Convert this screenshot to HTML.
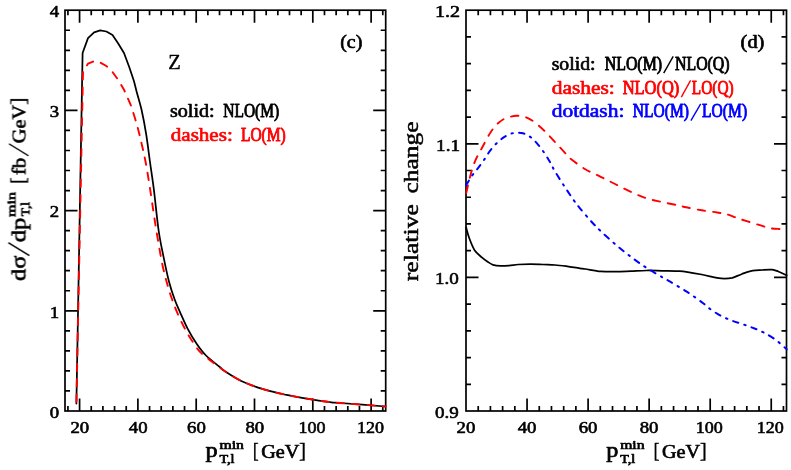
<!DOCTYPE html>
<html><head><meta charset="utf-8"><title>plot</title>
<style>
html,body{margin:0;padding:0;background:#fff;overflow:hidden;}svg{display:block;}
text{font-family:"Liberation Serif",serif;}
</style></head><body>
<svg width="791" height="470" viewBox="0 0 791 470">
<rect width="791" height="470" fill="#fff"/>
<g fill="none" stroke="#000" stroke-width="1.70">
<rect x="65.00" y="10.20" width="320.70" height="400.80"/>
<path d="M79.58 411.00v-12.5M79.58 10.20v12.5M137.89 411.00v-12.5M137.89 10.20v12.5M196.20 411.00v-12.5M196.20 10.20v12.5M254.50 411.00v-12.5M254.50 10.20v12.5M312.81 411.00v-12.5M312.81 10.20v12.5M371.12 411.00v-12.5M371.12 10.20v12.5M67.92 411.00v-5.0M67.92 10.20v5.0M91.24 411.00v-5.0M91.24 10.20v5.0M102.90 411.00v-5.0M102.90 10.20v5.0M114.56 411.00v-5.0M114.56 10.20v5.0M126.22 411.00v-5.0M126.22 10.20v5.0M149.55 411.00v-5.0M149.55 10.20v5.0M161.21 411.00v-5.0M161.21 10.20v5.0M172.87 411.00v-5.0M172.87 10.20v5.0M184.53 411.00v-5.0M184.53 10.20v5.0M207.86 411.00v-5.0M207.86 10.20v5.0M219.52 411.00v-5.0M219.52 10.20v5.0M231.18 411.00v-5.0M231.18 10.20v5.0M242.84 411.00v-5.0M242.84 10.20v5.0M266.17 411.00v-5.0M266.17 10.20v5.0M277.83 411.00v-5.0M277.83 10.20v5.0M289.49 411.00v-5.0M289.49 10.20v5.0M301.15 411.00v-5.0M301.15 10.20v5.0M324.48 411.00v-5.0M324.48 10.20v5.0M336.14 411.00v-5.0M336.14 10.20v5.0M347.80 411.00v-5.0M347.80 10.20v5.0M359.46 411.00v-5.0M359.46 10.20v5.0M382.78 411.00v-5.0M382.78 10.20v5.0M65.00 310.80h12.5M385.70 310.80h-12.5M65.00 210.60h12.5M385.70 210.60h-12.5M65.00 110.40h12.5M385.70 110.40h-12.5M65.00 390.96h5.0M385.70 390.96h-5.0M65.00 370.92h5.0M385.70 370.92h-5.0M65.00 350.88h5.0M385.70 350.88h-5.0M65.00 330.84h5.0M385.70 330.84h-5.0M65.00 290.76h5.0M385.70 290.76h-5.0M65.00 270.72h5.0M385.70 270.72h-5.0M65.00 250.68h5.0M385.70 250.68h-5.0M65.00 230.64h5.0M385.70 230.64h-5.0M65.00 190.56h5.0M385.70 190.56h-5.0M65.00 170.52h5.0M385.70 170.52h-5.0M65.00 150.48h5.0M385.70 150.48h-5.0M65.00 130.44h5.0M385.70 130.44h-5.0M65.00 90.36h5.0M385.70 90.36h-5.0M65.00 70.32h5.0M385.70 70.32h-5.0M65.00 50.28h5.0M385.70 50.28h-5.0M65.00 30.24h5.0M385.70 30.24h-5.0"/>
<rect x="466.00" y="10.20" width="320.50" height="400.80"/>
<path d="M527.05 411.00v-12.5M527.05 10.20v12.5M588.10 411.00v-12.5M588.10 10.20v12.5M649.14 411.00v-12.5M649.14 10.20v12.5M710.19 411.00v-12.5M710.19 10.20v12.5M771.24 411.00v-12.5M771.24 10.20v12.5M478.21 411.00v-5.0M478.21 10.20v5.0M490.42 411.00v-5.0M490.42 10.20v5.0M502.63 411.00v-5.0M502.63 10.20v5.0M514.84 411.00v-5.0M514.84 10.20v5.0M539.26 411.00v-5.0M539.26 10.20v5.0M551.47 411.00v-5.0M551.47 10.20v5.0M563.68 411.00v-5.0M563.68 10.20v5.0M575.89 411.00v-5.0M575.89 10.20v5.0M600.30 411.00v-5.0M600.30 10.20v5.0M612.51 411.00v-5.0M612.51 10.20v5.0M624.72 411.00v-5.0M624.72 10.20v5.0M636.93 411.00v-5.0M636.93 10.20v5.0M661.35 411.00v-5.0M661.35 10.20v5.0M673.56 411.00v-5.0M673.56 10.20v5.0M685.77 411.00v-5.0M685.77 10.20v5.0M697.98 411.00v-5.0M697.98 10.20v5.0M722.40 411.00v-5.0M722.40 10.20v5.0M734.61 411.00v-5.0M734.61 10.20v5.0M746.82 411.00v-5.0M746.82 10.20v5.0M759.03 411.00v-5.0M759.03 10.20v5.0M783.45 411.00v-5.0M783.45 10.20v5.0M466.00 277.40h12.5M786.50 277.40h-12.5M466.00 143.80h12.5M786.50 143.80h-12.5M466.00 384.28h5.0M786.50 384.28h-5.0M466.00 357.56h5.0M786.50 357.56h-5.0M466.00 330.84h5.0M786.50 330.84h-5.0M466.00 304.12h5.0M786.50 304.12h-5.0M466.00 250.68h5.0M786.50 250.68h-5.0M466.00 223.96h5.0M786.50 223.96h-5.0M466.00 197.24h5.0M786.50 197.24h-5.0M466.00 170.52h5.0M786.50 170.52h-5.0M466.00 117.08h5.0M786.50 117.08h-5.0M466.00 90.36h5.0M786.50 90.36h-5.0M466.00 63.64h5.0M786.50 63.64h-5.0M466.00 36.92h5.0M786.50 36.92h-5.0"/>
</g>
<g fill="none" stroke-width="1.75" stroke-linejoin="round" stroke-linecap="round">
<path stroke="#000" d="M76.4 403.6L82.6 53.0L88.0 38.1L94.1 32.3L100.2 30.4L106.4 31.5L112.5 34.9L117.9 43.0L124.0 53.0L129.4 67.5L134.0 81.3L136.7 92.0L136.7 92.0C137.5 95.0 140.0 102.9 141.6 110.0C143.2 117.1 144.8 125.7 146.2 134.4C147.6 143.1 148.7 152.6 150.0 162.0C151.3 171.4 152.6 179.1 154.0 190.6C155.4 202.1 157.1 219.8 158.7 231.0C160.3 242.2 162.0 249.1 163.7 257.6C165.4 266.1 167.3 275.1 169.1 282.0C170.9 288.9 172.7 294.0 174.5 299.0C176.3 304.0 177.7 306.9 179.9 311.9C182.1 316.8 184.8 323.3 187.6 328.7C190.4 334.1 193.7 339.5 196.8 344.0C199.9 348.5 202.2 351.7 206.0 355.5C209.8 359.3 216.6 364.3 219.8 367.0C223.0 369.7 221.8 369.2 225.3 371.5C228.8 373.8 235.6 378.1 240.7 380.7C245.8 383.2 250.9 385.0 256.0 386.8C261.1 388.6 266.2 390.0 271.3 391.4C276.4 392.8 281.5 393.8 286.6 394.9C291.7 396.0 296.9 396.9 302.0 397.8C307.1 398.7 312.6 399.6 317.3 400.3C322.0 401.0 326.2 401.7 330.0 402.1C333.8 402.6 330.8 402.3 340.0 403.0C349.2 403.7 377.9 405.9 385.5 406.5"/>
<path stroke="#f00" stroke-width="1.9" stroke-dashoffset="-1.75" stroke-dasharray="7.45 7.9" d="M76.4 403.6L83.0 72.0L88.0 63.7L93.4 61.4L99.5 62.1L106.4 66.0L112.5 72.0L118.6 80.5L124.0 89.7L130.9 105.3L130.9 105.3C131.9 108.6 135.2 118.6 137.0 125.0C138.8 131.4 140.2 137.6 141.6 143.6C143.0 149.6 144.1 154.2 145.4 161.0C146.7 167.8 148.1 176.2 149.4 184.5C150.7 192.8 152.1 202.7 153.3 210.6C154.5 218.5 155.1 223.2 156.6 232.0C158.1 240.8 160.4 254.9 162.2 263.7C164.0 272.5 165.9 279.3 167.5 285.0C169.1 290.7 170.0 293.5 171.6 298.0C173.2 302.5 174.8 306.9 176.9 311.9C179.1 316.9 181.9 323.1 184.5 328.0C187.1 332.9 189.6 337.1 192.2 341.0C194.8 344.9 197.0 348.6 199.8 351.7C202.6 354.8 206.2 357.1 209.0 359.4C211.8 361.6 214.0 363.2 216.7 365.2C219.4 367.2 221.3 368.9 225.3 371.5C229.3 374.1 235.6 378.1 240.7 380.7C245.8 383.2 250.9 385.0 256.0 386.8C261.1 388.6 266.2 390.0 271.3 391.4C276.4 392.8 281.5 393.8 286.6 394.9C291.7 396.0 296.9 396.9 302.0 397.8C307.1 398.7 312.6 399.6 317.3 400.3C322.0 401.0 326.2 401.7 330.0 402.1C333.8 402.6 330.8 402.3 340.0 403.0C349.2 403.7 377.9 405.9 385.5 406.5"/>
<path stroke="#000" d="M466.1 227.3C466.6 229.1 467.8 234.2 469.2 238.0C470.6 241.8 472.6 247.0 474.6 250.2C476.7 253.4 479.3 255.2 481.5 257.1C483.7 259.0 485.7 260.4 487.6 261.7C489.5 263.0 490.8 264.1 493.0 264.8C495.2 265.5 497.9 265.8 500.6 265.9C503.3 266.0 506.1 265.8 509.0 265.6C511.9 265.4 514.6 264.8 518.2 264.5C521.8 264.2 526.4 264.0 530.5 264.0C534.6 264.0 538.7 264.3 542.8 264.5C546.9 264.7 550.9 264.7 555.0 265.0C559.1 265.3 563.1 265.8 567.3 266.3C571.5 266.9 577.0 267.9 580.0 268.3C583.0 268.8 581.8 268.5 585.3 269.0C588.8 269.5 595.6 270.9 600.7 271.4C605.8 271.8 610.9 271.8 616.0 271.7C621.1 271.6 626.2 271.3 631.3 271.1C636.4 270.9 641.5 270.6 646.6 270.5C651.7 270.4 656.9 270.7 662.0 270.8C667.1 270.9 673.2 270.9 677.3 271.1C681.3 271.3 682.2 271.2 686.3 271.8C690.4 272.4 696.6 273.5 701.7 274.5C706.8 275.5 713.2 277.2 717.0 277.9C720.8 278.6 722.1 278.7 724.6 278.7C727.1 278.7 729.5 278.6 732.3 277.9C735.1 277.1 738.4 275.3 741.5 274.2C744.6 273.1 747.1 271.8 750.7 271.1C754.3 270.4 759.4 270.1 763.0 269.9C766.6 269.6 769.7 269.3 772.2 269.6C774.8 269.9 775.9 270.6 778.3 271.5C780.7 272.4 785.3 274.7 786.7 275.3"/>
<path stroke="#f00" stroke-width="1.9" stroke-dashoffset="-0.95" stroke-dasharray="7.45 7.9" d="M466.1 193.7C466.8 190.9 468.5 182.4 470.0 176.9C471.5 171.4 473.1 165.8 475.3 160.7C477.5 155.5 480.4 150.8 483.0 146.0C485.6 141.2 488.1 136.0 490.7 132.2C493.2 128.4 495.8 125.3 498.3 123.0C500.9 120.7 502.9 119.3 506.0 118.1C509.1 116.9 513.4 115.9 516.7 115.8C520.0 115.7 523.1 116.2 525.9 117.2C528.7 118.2 530.5 119.2 533.6 121.5C536.7 123.8 540.7 127.3 544.3 130.7C547.9 134.1 551.4 138.3 555.0 142.1C558.6 145.9 563.2 150.9 565.7 153.6C568.2 156.3 566.7 155.8 570.0 158.4C573.3 161.0 580.2 166.1 585.3 169.2C590.4 172.3 595.6 174.2 600.7 176.8C605.8 179.4 610.9 181.9 616.0 184.5C621.1 187.1 626.2 189.8 631.3 192.1C636.4 194.4 641.5 196.6 646.6 198.3C651.7 200.0 656.9 200.9 662.0 202.1C667.1 203.2 673.2 204.3 677.3 205.2C681.3 206.1 682.2 206.5 686.3 207.3C690.4 208.2 696.6 209.4 701.7 210.3C706.8 211.2 712.7 211.8 717.0 212.5C721.3 213.2 724.4 213.6 727.7 214.5C731.0 215.4 733.6 216.8 736.9 218.0C740.2 219.2 743.8 220.2 747.6 221.4C751.4 222.6 756.1 224.0 759.9 225.2C763.7 226.3 767.1 227.7 770.6 228.3C774.1 228.9 777.9 228.8 780.6 229.0C783.3 229.2 785.7 229.2 786.7 229.3"/>
<path stroke="#00f" stroke-width="2" stroke-dashoffset="0" stroke-dasharray="5.4 6.25 1.5 6.25" d="M466.1 185.3C467.1 183.6 470.2 178.2 472.3 175.3C474.4 172.4 476.4 170.2 478.4 167.7C480.3 165.1 481.9 163.0 484.0 160.0C486.1 157.0 488.3 152.9 490.7 149.8C493.1 146.8 495.8 144.0 498.3 141.7C500.9 139.4 503.4 137.4 506.0 136.0C508.6 134.6 511.1 133.5 513.6 133.0C516.1 132.5 518.7 132.5 521.3 133.0C523.9 133.5 526.5 134.3 529.0 136.0C531.5 137.7 534.1 140.1 536.6 142.9C539.1 145.7 542.0 149.6 544.3 152.9C546.6 156.2 548.6 159.7 550.4 162.8C552.2 165.9 552.7 167.6 555.0 171.5C557.3 175.4 561.1 181.3 564.2 186.0C567.3 190.7 570.8 196.1 573.4 199.8C576.0 203.5 577.0 204.7 580.0 208.3C583.0 212.0 588.0 217.9 591.5 221.7C595.0 225.5 596.6 227.2 600.7 231.1C604.8 235.0 610.9 240.6 616.0 244.9C621.1 249.2 626.2 253.3 631.3 257.1C636.4 260.9 641.5 264.6 646.6 267.9C651.7 271.2 657.9 274.7 662.0 277.1C666.1 279.5 667.0 279.8 671.0 282.2C675.0 284.6 681.2 288.1 686.3 291.4C691.4 294.7 697.9 299.3 701.7 302.1C705.5 304.9 706.2 306.2 709.3 308.4C712.3 310.6 716.4 313.3 720.0 315.3C723.6 317.3 727.2 318.8 730.8 320.2C734.4 321.6 737.9 322.6 741.5 323.8C745.1 325.0 748.6 326.2 752.2 327.6C755.8 329.0 759.2 330.2 763.0 332.2C766.8 334.2 771.2 336.6 775.2 339.5C779.2 342.4 784.8 347.7 786.7 349.3"/>
</g>
<g stroke-linejoin="round" opacity="0.999">
<text x="70.48" y="432.50" font-size="16.5" fill="#000" stroke="#000" stroke-width="0.6" textLength="18.77" lengthAdjust="spacingAndGlyphs">20</text>
<text x="128.79" y="432.50" font-size="16.5" fill="#000" stroke="#000" stroke-width="0.6" textLength="18.77" lengthAdjust="spacingAndGlyphs">40</text>
<text x="187.10" y="432.50" font-size="16.5" fill="#000" stroke="#000" stroke-width="0.6" textLength="18.77" lengthAdjust="spacingAndGlyphs">60</text>
<text x="245.40" y="432.50" font-size="16.5" fill="#000" stroke="#000" stroke-width="0.6" textLength="18.77" lengthAdjust="spacingAndGlyphs">80</text>
<text x="298.62" y="432.50" font-size="16.5" fill="#000" stroke="#000" stroke-width="0.6" textLength="27.02" lengthAdjust="spacingAndGlyphs">100</text>
<text x="356.93" y="432.50" font-size="16.5" fill="#000" stroke="#000" stroke-width="0.6" textLength="27.02" lengthAdjust="spacingAndGlyphs">120</text>
<text x="456.60" y="432.50" font-size="16.5" fill="#000" stroke="#000" stroke-width="0.6" textLength="18.77" lengthAdjust="spacingAndGlyphs">20</text>
<text x="517.65" y="432.50" font-size="16.5" fill="#000" stroke="#000" stroke-width="0.6" textLength="18.77" lengthAdjust="spacingAndGlyphs">40</text>
<text x="578.70" y="432.50" font-size="16.5" fill="#000" stroke="#000" stroke-width="0.6" textLength="18.77" lengthAdjust="spacingAndGlyphs">60</text>
<text x="639.74" y="432.50" font-size="16.5" fill="#000" stroke="#000" stroke-width="0.6" textLength="18.77" lengthAdjust="spacingAndGlyphs">80</text>
<text x="695.70" y="432.50" font-size="16.5" fill="#000" stroke="#000" stroke-width="0.6" textLength="27.02" lengthAdjust="spacingAndGlyphs">100</text>
<text x="756.75" y="432.50" font-size="16.5" fill="#000" stroke="#000" stroke-width="0.6" textLength="27.02" lengthAdjust="spacingAndGlyphs">120</text>
<text x="49.70" y="417.80" font-size="16.5" fill="#000" stroke="#000" stroke-width="0.6" textLength="9.38" lengthAdjust="spacingAndGlyphs">0</text>
<text x="49.66" y="317.60" font-size="16.5" fill="#000" stroke="#000" stroke-width="0.6" textLength="9.43" lengthAdjust="spacingAndGlyphs">1</text>
<text x="49.70" y="217.40" font-size="16.5" fill="#000" stroke="#000" stroke-width="0.6" textLength="9.38" lengthAdjust="spacingAndGlyphs">2</text>
<text x="49.70" y="117.20" font-size="16.5" fill="#000" stroke="#000" stroke-width="0.6" textLength="9.38" lengthAdjust="spacingAndGlyphs">3</text>
<text x="49.70" y="17.00" font-size="16.5" fill="#000" stroke="#000" stroke-width="0.6" textLength="9.38" lengthAdjust="spacingAndGlyphs">4</text>
<text x="435.10" y="417.80" font-size="16.5" fill="#000" stroke="#000" stroke-width="0.6" textLength="23.77" lengthAdjust="spacingAndGlyphs">0.9</text>
<text x="435.04" y="284.20" font-size="16.5" fill="#000" stroke="#000" stroke-width="0.6" textLength="23.82" lengthAdjust="spacingAndGlyphs">1.0</text>
<text x="436.14" y="150.60" font-size="16.5" fill="#000" stroke="#000" stroke-width="0.6" textLength="23.88" lengthAdjust="spacingAndGlyphs">1.1</text>
<text x="434.98" y="17.00" font-size="16.5" fill="#000" stroke="#000" stroke-width="0.6" textLength="25.08" lengthAdjust="spacingAndGlyphs">1.2</text>
<text x="168.27" y="69.20" font-size="22" fill="#000" stroke="#000" stroke-width="0.4" textLength="12.56" lengthAdjust="spacingAndGlyphs">Z</text>
<text x="169.90" y="116.70" font-size="18" fill="#000" stroke="#000" stroke-width="0.65" textLength="44.74" lengthAdjust="spacingAndGlyphs">solid:</text>
<text x="223.30" y="116.70" font-size="18" fill="#000" stroke="#000" stroke-width="0.9" textLength="55.90" lengthAdjust="spacingAndGlyphs">NLO(M)</text>
<text x="170.80" y="140.70" font-size="18" fill="#f00" stroke="#f00" stroke-width="0.65" textLength="61.97" lengthAdjust="spacingAndGlyphs">dashes:</text>
<text x="240.90" y="140.70" font-size="18" fill="#f00" stroke="#f00" stroke-width="0.9" textLength="44.90" lengthAdjust="spacingAndGlyphs">LO(M)</text>
<text x="340.20" y="47.90" font-size="18" fill="#000" stroke="#000" stroke-width="0.65" textLength="22.08" lengthAdjust="spacingAndGlyphs">(c)</text>
<text x="740.60" y="47.90" font-size="18" fill="#000" stroke="#000" stroke-width="0.65" textLength="23.80" lengthAdjust="spacingAndGlyphs">(d)</text>
<text x="551.70" y="69.90" font-size="18" fill="#000" stroke="#000" stroke-width="0.65" textLength="43.91" lengthAdjust="spacingAndGlyphs">solid:</text>
<text x="604.80" y="69.90" font-size="18" fill="#000" stroke="#000" stroke-width="0.9" textLength="57.20" lengthAdjust="spacingAndGlyphs">NLO(M)</text>
<text x="675.00" y="69.90" font-size="18" fill="#000" stroke="#000" stroke-width="0.9" textLength="54.59" lengthAdjust="spacingAndGlyphs">NLO(Q)</text>
<text x="551.70" y="93.90" font-size="18" fill="#f00" stroke="#f00" stroke-width="0.65" textLength="63.09" lengthAdjust="spacingAndGlyphs">dashes:</text>
<text x="622.70" y="93.90" font-size="18" fill="#f00" stroke="#f00" stroke-width="0.9" textLength="56.59" lengthAdjust="spacingAndGlyphs">NLO(Q)</text>
<text x="691.80" y="93.90" font-size="18" fill="#f00" stroke="#f00" stroke-width="0.9" textLength="41.79" lengthAdjust="spacingAndGlyphs">LO(Q)</text>
<text x="551.70" y="117.30" font-size="18" fill="#00f" stroke="#00f" stroke-width="0.65" textLength="72.69" lengthAdjust="spacingAndGlyphs">dotdash:</text>
<text x="632.80" y="117.30" font-size="18" fill="#00f" stroke="#00f" stroke-width="0.9" textLength="56.10" lengthAdjust="spacingAndGlyphs">NLO(M)</text>
<text x="702.10" y="117.30" font-size="18" fill="#00f" stroke="#00f" stroke-width="0.9" textLength="45.00" lengthAdjust="spacingAndGlyphs">LO(M)</text>
<text x="205.60" y="457.30" font-size="20.5" fill="#000" stroke="#000" stroke-width="0.7" textLength="12.10" lengthAdjust="spacingAndGlyphs">p</text>
<text x="219.50" y="448.60" font-size="12.5" fill="#000" stroke="#000" stroke-width="0.7" textLength="24.32" lengthAdjust="spacingAndGlyphs">min</text>
<text x="219.50" y="462.80" font-size="12" fill="#000" stroke="#000" stroke-width="0.7" textLength="15.04" lengthAdjust="spacingAndGlyphs">T,l</text>
<text x="252.68" y="456.70" font-size="22" fill="#000" stroke="#000" stroke-width="0.3" textLength="5.98" lengthAdjust="spacingAndGlyphs">[</text>
<text x="261.20" y="457.70" font-size="18" fill="#000" stroke="#000" stroke-width="0.65" textLength="38.20" lengthAdjust="spacingAndGlyphs">GeV</text>
<text x="299.12" y="456.70" font-size="22" fill="#000" stroke="#000" stroke-width="0.3" textLength="7.18" lengthAdjust="spacingAndGlyphs">]</text>
<text x="606.30" y="457.30" font-size="20.5" fill="#000" stroke="#000" stroke-width="0.7" textLength="12.09" lengthAdjust="spacingAndGlyphs">p</text>
<text x="620.20" y="448.60" font-size="12.5" fill="#000" stroke="#000" stroke-width="0.7" textLength="24.32" lengthAdjust="spacingAndGlyphs">min</text>
<text x="620.20" y="462.80" font-size="12" fill="#000" stroke="#000" stroke-width="0.7" textLength="15.04" lengthAdjust="spacingAndGlyphs">T,l</text>
<text x="653.38" y="456.70" font-size="22" fill="#000" stroke="#000" stroke-width="0.3" textLength="5.98" lengthAdjust="spacingAndGlyphs">[</text>
<text x="661.90" y="457.70" font-size="18" fill="#000" stroke="#000" stroke-width="0.65" textLength="38.20" lengthAdjust="spacingAndGlyphs">GeV</text>
<text x="699.82" y="456.70" font-size="22" fill="#000" stroke="#000" stroke-width="0.3" textLength="7.18" lengthAdjust="spacingAndGlyphs">]</text>
<path d="M663.70 73.20L673.20 56.40" stroke="#000" stroke-width="1.40" fill="none"/>
<path d="M681.30 97.20L690.60 80.40" stroke="#f00" stroke-width="1.40" fill="none"/>
<path d="M690.90 120.60L700.70 103.80" stroke="#00f" stroke-width="1.40" fill="none"/>
<g transform="translate(25.5,281) rotate(-90)">
<text x="-0.10" y="0.00" font-size="21" fill="#000" stroke="#000" stroke-width="0.6" textLength="25.40" lengthAdjust="spacingAndGlyphs">d&#963;</text>
<text x="38.80" y="0.00" font-size="21" fill="#000" stroke="#000" stroke-width="0.6" textLength="24.50" lengthAdjust="spacingAndGlyphs">dp</text>
<text x="64.10" y="-10.10" font-size="12.5" fill="#000" stroke="#000" stroke-width="0.7" textLength="24.90" lengthAdjust="spacingAndGlyphs">min</text>
<text x="64.70" y="3.70" font-size="12" fill="#000" stroke="#000" stroke-width="0.7" textLength="14.35" lengthAdjust="spacingAndGlyphs">T,l</text>
<text x="96.88" y="-1.20" font-size="22" fill="#000" stroke="#000" stroke-width="0.3" textLength="6.72" lengthAdjust="spacingAndGlyphs">[</text>
<text x="105.90" y="0.20" font-size="18" fill="#000" stroke="#000" stroke-width="0.65" textLength="17.40" lengthAdjust="spacingAndGlyphs">fb</text>
<text x="137.80" y="0.20" font-size="18" fill="#000" stroke="#000" stroke-width="0.65" textLength="38.20" lengthAdjust="spacingAndGlyphs">GeV</text>
<text x="175.96" y="-1.20" font-size="22" fill="#000" stroke="#000" stroke-width="0.3" textLength="7.62" lengthAdjust="spacingAndGlyphs">]</text>
<path d="M25.40 3.90L38.30 -17.20" stroke="#000" stroke-width="1.50" fill="none"/>
<path d="M125.20 3.00L137.20 -16.50" stroke="#000" stroke-width="1.40" fill="none"/>
</g>
<g transform="translate(418.1,281.3) rotate(-90)">
<text x="0.00" y="0.00" font-size="21" fill="#000" stroke="#000" stroke-width="0.5" textLength="77.26" lengthAdjust="spacingAndGlyphs">relative</text>
<text x="87.79" y="0.00" font-size="21" fill="#000" stroke="#000" stroke-width="0.5" textLength="71.98" lengthAdjust="spacingAndGlyphs">change</text>
</g>
</g>
</svg></body></html>
